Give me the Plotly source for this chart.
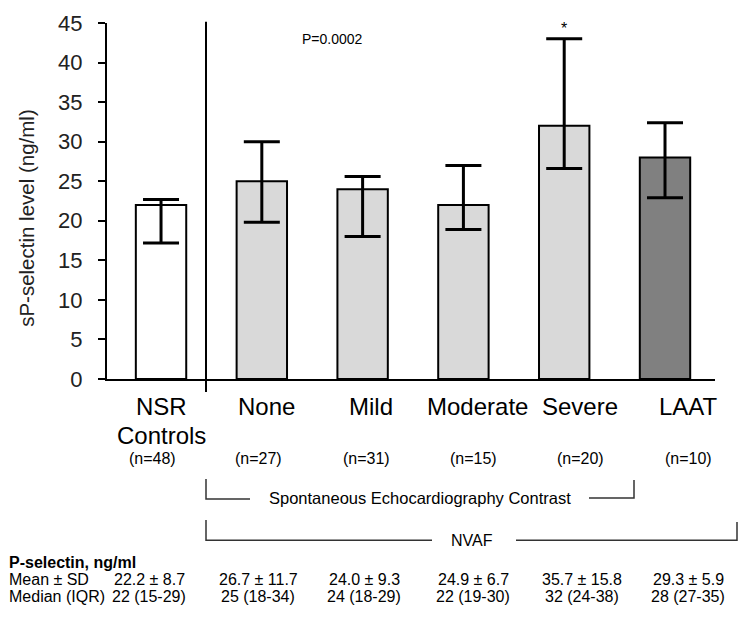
import plotly.graph_objects as go

# ---- data ----
groups = ["NSR<br>Controls", "None", "Mild", "Moderate", "Severe", "LAAT"]
n_values = [48, 27, 31, 15, 20, 10]
bar_values = [22, 25, 24, 22, 32, 28]
err_upper_end = [22.7, 30.0, 25.6, 27.0, 43.0, 32.4]
err_lower_end = [17.2, 19.8, 18.0, 18.9, 26.6, 22.9]
bar_colors = ["#ffffff", "#d9d9d9", "#d9d9d9", "#d9d9d9", "#d9d9d9", "#808080"]
mean_sd = ["22.2 ± 8.7", "26.7 ± 11.7", "24.0 ± 9.3", "24.9 ± 6.7", "35.7 ± 15.8", "29.3 ± 5.9"]
median_iqr = ["22 (15-29)", "25 (18-34)", "24 (18-29)", "22 (19-30)", "32 (24-38)", "28 (27-35)"]
y_ticks = [0, 5, 10, 15, 20, 25, 30, 35, 40, 45]

FONT = "Arial, Liberation Sans, sans-serif"
OFF = 8  # page body margin in the browser
W, H = 750 - OFF, 622 - OFF
# plot-area edges in page pixels
L, R, T, B = 107, 715, 23.3, 379.0


def px(x):
    return (x - L) / (R - L)


def py(y):
    return (B - y) / (B - T)


def note(x, y, text, size, xanchor="center", **kw):
    return dict(x=px(x), y=py(y), xref="paper", yref="paper", text=text, showarrow=False,
                xanchor=xanchor, yanchor="middle",
                font=dict(size=size, color=kw.pop("color", "black"), family=FONT), **kw)


xs = list(range(len(groups)))
fig = go.Figure()
fig.add_trace(go.Bar(
    x=xs, y=bar_values, width=0.5,
    marker=dict(color=bar_colors, line=dict(color="black", width=2)),
    error_y=dict(type="data", symmetric=False,
                 array=[u - v for u, v in zip(err_upper_end, bar_values)],
                 arrayminus=[v - l for l, v in zip(err_lower_end, bar_values)],
                 color="black", thickness=3, width=18),
    showlegend=False, hoverinfo="skip",
))

ann = []
# y-axis title
ann.append(note(27, 218, "sP-selectin level (ng/ml)", 20.5, textangle=-90, color="#222"))
# category labels
label_x = [161, 266, 371, 477, 580, 688]
for lbl, lx in zip(groups, label_x):
    for k, p in enumerate(lbl.split("<br>")):
        ann.append(note(lx, 406 + 29 * k, p, 24))
n_x = [152, 258, 366, 473, 580, 688]
for n, nx in zip(n_values, n_x):
    ann.append(note(nx, 458, f"(n={n})", 16))
# p value and star
ann.append(note(332, 39, "P=0.0002", 14))
ann.append(dict(x=4, y=err_upper_end[4], xref="x", yref="y", text="*", yshift=10,
                xanchor="center", yanchor="middle",
                showarrow=False, font=dict(size=16, color="black", family=FONT)))
# bracket labels
ann.append(note(420, 498, "Spontaneous Echocardiography Contrast", 16.5))
ann.append(note(472, 540, "NVAF", 16))
# table
ann.append(note(7, 562, "<b>P-selectin, ng/ml</b>", 16, xanchor="left"))
ann.append(note(7, 579, "Mean ± SD", 16, xanchor="left"))
ann.append(note(7, 596, "Median (IQR)", 16, xanchor="left"))
col_x = [149, 258, 364, 473, 582, 688]
for cx, m, md in zip(col_x, mean_sd, median_iqr):
    ann.append(note(cx, 579, m, 16))
    ann.append(note(cx, 596, md, 16))

shapes = []
# separator line
shapes.append(dict(type="line", xref="paper", yref="paper", x0=px(206), x1=px(206),
                   y0=py(22), y1=py(392), line=dict(color="black", width=2)))
bline = dict(color="#333", width=1.5)


def path(points):
    return "M " + " L ".join(f"{px(a)},{py(b)}" for a, b in points)


shapes.append(dict(type="path", xref="paper", yref="paper",
                   path=path([(206, 479), (206, 499), (250, 499)]), line=bline))
shapes.append(dict(type="path", xref="paper", yref="paper",
                   path=path([(589, 498), (634, 498), (634, 480)]), line=bline))
shapes.append(dict(type="path", xref="paper", yref="paper",
                   path=path([(206, 520), (206, 540), (432, 540)]), line=bline))
shapes.append(dict(type="path", xref="paper", yref="paper",
                   path=path([(516, 540), (737, 540), (737, 522)]), line=bline))

fig.update_layout(
    width=W, height=H,
    margin=dict(l=L - OFF, r=750 - R, t=T - OFF, b=622 - B, autoexpand=False),
    paper_bgcolor="white", plot_bgcolor="white",
    annotations=ann, shapes=shapes,
    font=dict(family=FONT, color="black"),
    xaxis=dict(range=[-0.536, 5.496], showticklabels=False, ticks="", showgrid=False,
               zeroline=False, showline=True, linecolor="black", linewidth=2, fixedrange=True),
    yaxis=dict(range=[0, 45], tickvals=y_ticks, ticks="outside", ticklen=7, tickwidth=1.5,
               tickcolor="black", showgrid=False, zeroline=False, showline=True,
               linecolor="black", linewidth=2, tickfont=dict(size=22, color="#222", family=FONT),
               ticklabelstandoff=11, automargin=False),
)

fig.write_html("out.html")
